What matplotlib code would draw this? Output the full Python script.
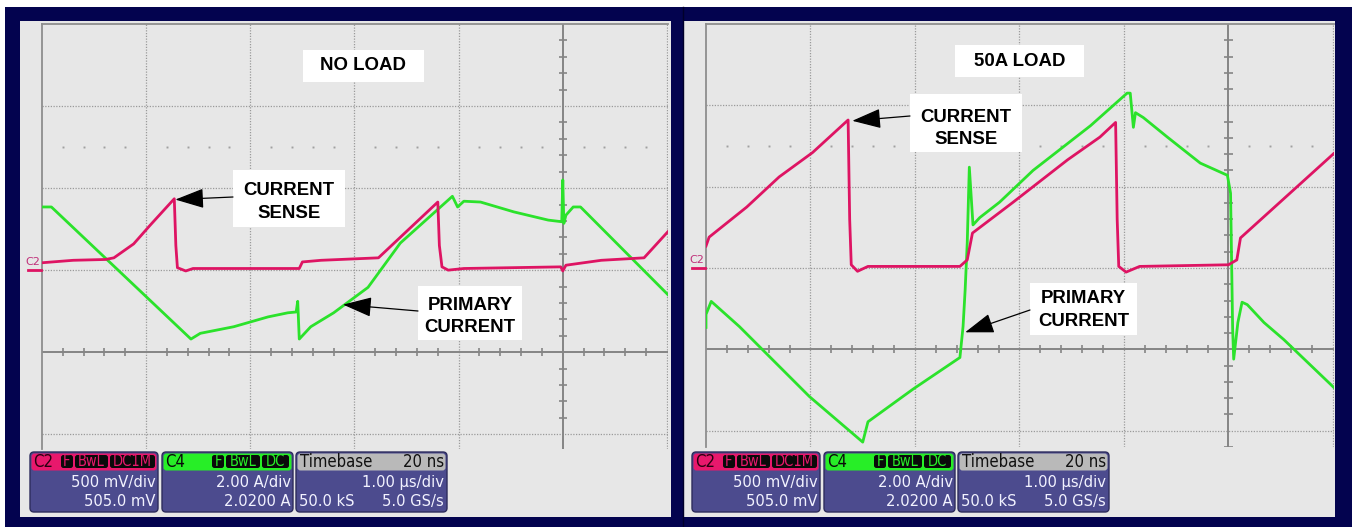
import matplotlib
matplotlib.use("Agg")
import matplotlib.pyplot as plt
from matplotlib.patches import Rectangle, FancyBboxPatch
from matplotlib import font_manager

W, H = 1352, 527

# ---------------------------------------------------------------------------
# Scope traces: time in µs (1 µs/div, trigger at 0), level in screen divisions
# (0 = centre graticule line).  C2 = current-sense voltage, C4 = primary current.
# ---------------------------------------------------------------------------
noload_cs_t = [-5.00, -4.70, -4.39, -4.31, -4.12, -3.96, -3.73, -3.715, -3.70,
               -3.62, -3.55, -2.53, -2.50, -2.32, -1.77, -1.20, -1.185, -1.16,
               -1.10, -0.95, -0.02, 0.00, 0.03, 0.37, 0.78, 1.01]
noload_cs_v = [1.09, 1.12, 1.13, 1.15, 1.32, 1.55, 1.87, 1.30, 1.03,
               0.99, 1.02, 1.02, 1.10, 1.12, 1.15, 1.83, 1.30, 1.04,
               1.00, 1.02, 1.04, 0.99, 1.06, 1.12, 1.15, 1.47]

noload_ip_t = [-5.00, -4.91, -3.57, -3.48, -3.16, -2.83, -2.64, -2.56, -2.545,
               -2.53, -2.42, -2.20, -1.87, -1.56, -1.06, -1.01, -0.95, -0.79,
               -0.47, -0.14, -0.01, 0.00, 0.01, 0.03, 0.10, 0.17, 1.01]
noload_ip_v = [1.77, 1.77, 0.16, 0.23, 0.31, 0.43, 0.48, 0.49, 0.62,
               0.16, 0.31, 0.48, 0.79, 1.33, 1.90, 1.77, 1.84, 1.83,
               1.71, 1.61, 1.59, 2.10, 1.57, 1.67, 1.77, 1.77, 0.70]

load_cs_t = [-5.00, -4.97, -4.61, -4.30, -3.98, -3.64, -3.625, -3.61, -3.55,
             -3.45, -2.57, -2.50, -2.45, -2.06, -1.54, -1.23, -1.08, -1.065,
             -1.05, -0.98, -0.85, 0.00, 0.08, 0.115, 1.01]
load_cs_v = [1.27, 1.38, 1.75, 2.12, 2.42, 2.82, 1.60, 1.04,
             0.96, 1.02, 1.02, 1.10, 1.43, 1.81, 2.33, 2.61, 2.79, 1.60,
             1.02, 0.95, 1.02, 1.04, 1.10, 1.37, 2.41]

load_ip_t = [-5.00, -5.00, -4.95, -4.68, -4.01, -3.50, -3.45, -3.02, -2.57,
             -2.54, -2.52, -2.50, -2.48, -2.445, -2.38, -2.19, -1.87, -1.54,
             -1.32, -0.97, -0.94, -0.91, -0.89, -0.815, -0.585, -0.27, -0.01,
             0.02, 0.04, 0.05, 0.09, 0.13, 0.18, 0.34, 0.53, 1.01]
load_ip_v = [0.27, 0.43, 0.59, 0.28, -0.58, -1.14, -0.89, -0.49, -0.10,
             0.28, 0.73, 1.31, 2.24, 1.53, 1.62, 1.81, 2.20, 2.53,
             2.75, 3.15, 3.15, 2.73, 2.91, 2.85, 2.61, 2.29, 2.14,
             1.92, 0.25, -0.12, 0.33, 0.58, 0.55, 0.33, 0.12, -0.47]

panel_titles = ["NO LOAD", "50A LOAD"]
c2_info = ["500 mV/div", "505.0 mV"]
c4_info = ["2.00 A/div", "2.0200 A"]
tb_info = ["20 ns", "1.00 µs/div", "50.0 kS", "5.0 GS/s"]

# ---------------------------------------------------------------------------
NAVY = "#03034f"
PANEL = "#e7e7e7"
GRID = "#9a9a9a"
AXISC = "#858585"
RED = "#de1463"
GREEN = "#2be22b"
BODY = "#4c4b8e"

names = {f.name for f in font_manager.fontManager.ttflist}
NARROW = "Liberation Sans Narrow" if "Liberation Sans Narrow" in names else "DejaVu Sans"
NARROW_STRETCH = "normal" if NARROW == "Liberation Sans Narrow" else "condensed"
BOLD = "Liberation Sans" if "Liberation Sans" in names else "DejaVu Sans"

fig = plt.figure(figsize=(W / 100, H / 100), dpi=100)
fig.patch.set_facecolor("white")


def pixel_axes(z):
    a = fig.add_axes([0, 0, 1, 1], zorder=z)
    a.set_xlim(0, W)
    a.set_ylim(H, 0)
    a.axis("off")
    a.patch.set_alpha(0)
    return a


bg = pixel_axes(0)
bg.add_patch(Rectangle((5, 7), W - 5, H - 7, color=NAVY, lw=0))
bg.add_patch(Rectangle((20, 21), 651, 496, color=PANEL, lw=0))
bg.add_patch(Rectangle((684, 21), 651, 496, color=PANEL, lw=0))
bg.plot([683, 683], [7, H], color="#00002a", lw=1)


def scope_axes(x0, y0, x1, y1, ybot):
    a = fig.add_axes([x0 / W, 1 - y1 / H, (x1 - x0) / W, (y1 - y0) / H], zorder=1)
    a.set_xlim(-5, 1.01)
    a.set_ylim(ybot, 4.0)
    a.patch.set_alpha(0)
    a.set_xticks([])
    a.set_yticks([])
    for s in ("right", "bottom"):
        a.spines[s].set_visible(False)
    for s in ("left", "top"):
        a.spines[s].set_color("#8e8e8e")
        a.spines[s].set_linewidth(1.3)
    dot = (0, (1.0, 1.2))
    for gx in (-4, -3, -2, -1, 1):
        a.axvline(gx, color=GRID, lw=0.9, ls=dot, zorder=1)
    for gy in (1, 2, 3, -1):
        a.axhline(gy, color=GRID, lw=0.9, ls=dot, zorder=1)
    a.axhline(0, color=AXISC, lw=1.4, zorder=1.5)
    a.axvline(0, color=AXISC, lw=1.4, zorder=1.5)
    minor_x = [k * 0.2 for k in range(-25, 6) if k % 5]
    minor_y = [k * 0.2 for k in range(-6, 20) if k % 5]
    a.vlines(minor_x, -0.05, 0.05, color=AXISC, lw=1.2, zorder=1.5)
    a.hlines(minor_y, -0.04, 0.04, color=AXISC, lw=1.2, zorder=1.5)
    a.plot(minor_x, [2.5] * len(minor_x), ls="none", marker="s", ms=1.4,
           mew=0, color="#a0a0a0", zorder=1)
    return a


ax1 = scope_axes(42, 24, 668, 449, -1.18)
ax2 = scope_axes(706, 24, 1334, 447, -1.20)

for a, (ct, cv, it, iv) in zip(
        (ax1, ax2),
        ((noload_cs_t, noload_cs_v, noload_ip_t, noload_ip_v),
         (load_cs_t, load_cs_v, load_ip_t, load_ip_v))):
    a.plot(it, iv, color=GREEN, lw=2.0, zorder=3, solid_joinstyle="round")
    a.plot(ct, cv, color=RED, lw=2.0, zorder=4, solid_joinstyle="round")

ov = pixel_axes(5)


def label(box, lines, baselines, size=13.4):
    x0, y0, x1, y1 = box
    ov.add_patch(Rectangle((x0, y0), x1 - x0, y1 - y0, facecolor="white", lw=0))
    for s, yb in zip(lines, baselines):
        ov.text((x0 + x1) / 2, yb, s, ha="center", va="baseline", fontsize=size,
                weight="bold", family=BOLD, color="black")


def pointer(ax, tip, start):
    ov.annotate("", xy=tip, xycoords=ax.transData, xytext=start,
                textcoords=ov.transData,
                arrowprops=dict(arrowstyle="-|>,head_length=0.9,head_width=0.31",
                                mutation_scale=20, lw=0.9, color="black",
                                shrinkA=0, shrinkB=0))


# panel titles and callouts
label((303, 50, 424, 82), [panel_titles[0]], [70.5])
label((955, 45, 1084, 77), [panel_titles[1]], [66.5])
label((233, 170, 345, 227), ["CURRENT", "SENSE"], [195, 218])
label((418, 286, 522, 340), ["PRIMARY", "CURRENT"], [310, 332])
label((910, 94, 1022, 152), ["CURRENT", "SENSE"], [122, 144])
label((1030, 283, 1137, 335), ["PRIMARY", "CURRENT"], [303, 326])

pointer(ax1, (-3.72, 1.86), (233, 197))
pointer(ax1, (-2.11, 0.58), (418, 311))
pointer(ax2, (-3.60, 2.81), (910, 116))
pointer(ax2, (-2.52, 0.21), (1030, 310))

# ground-level markers
for gx, gy in ((28, 270), (692, 268)):
    ov.plot([gx, gx + 13], [gy, gy], color=RED, lw=2)
    ov.text(gx + 5, gy - 8, "C2", color="#c0307a", fontsize=8, family="DejaVu Sans",
            ha="center", va="center")


def info_box(x0, x1, head_color):
    ov.add_patch(FancyBboxPatch((x0, 452), x1 - x0, 60,
                                boxstyle="round,pad=0,rounding_size=4",
                                facecolor=BODY, edgecolor="#2d2c5c", lw=1.0))
    ov.add_patch(FancyBboxPatch((x0 + 1.5, 453.5), x1 - x0 - 3, 17,
                                boxstyle="round,pad=0,rounding_size=3",
                                facecolor=head_color, edgecolor="none"))


def tag(x0, x1, s, col):
    ov.add_patch(FancyBboxPatch((x0, 455), x1 - x0, 13,
                                boxstyle="round,pad=0,rounding_size=2.5",
                                facecolor="#0a0a0a", edgecolor="none"))
    ov.text((x0 + x1) / 2, 466, s, color=col, fontsize=10.5, family=NARROW,
            fontstretch=NARROW_STRETCH, ha="center", va="baseline")


def txt(x, y, s, ha, col="#f2f2ff", size=11.8):
    ov.text(x, y, s, color=col, fontsize=size, family=NARROW,
            fontstretch=NARROW_STRETCH, ha=ha, va="baseline")


for dx in (0, 662):
    info_box(30 + dx, 158 + dx, "#e8186c")
    txt(33 + dx, 467, "C2", "left", col="#2a0010", size=12)
    tag(61 + dx, 73 + dx, "F", "#e8186c")
    tag(75 + dx, 108 + dx, "BwL", "#e8186c")
    tag(110 + dx, 155 + dx, "DC1M", "#e8186c")
    txt(156 + dx, 487, c2_info[0], "right")
    txt(156 + dx, 506, c2_info[1], "right")

    info_box(162 + dx, 293 + dx, "#27ee27")
    txt(165 + dx, 467, "C4", "left", col="#0a0a0a", size=12)
    tag(212 + dx, 224 + dx, "F", "#27ee27")
    tag(226 + dx, 260 + dx, "BwL", "#27ee27")
    tag(262 + dx, 289 + dx, "DC", "#27ee27")
    txt(291 + dx, 487, c4_info[0], "right")
    txt(291 + dx, 506, c4_info[1], "right")

    info_box(296 + dx, 447 + dx, "#b9b9b9")
    txt(300 + dx, 467, "Timebase", "left", col="#111111", size=12)
    txt(444 + dx, 467, tb_info[0], "right", col="#111111", size=12)
    txt(444 + dx, 487, tb_info[1], "right")
    txt(299 + dx, 506, tb_info[2], "left")
    txt(444 + dx, 506, tb_info[3], "right")

fig.savefig("out.png", dpi=100, facecolor="white")
